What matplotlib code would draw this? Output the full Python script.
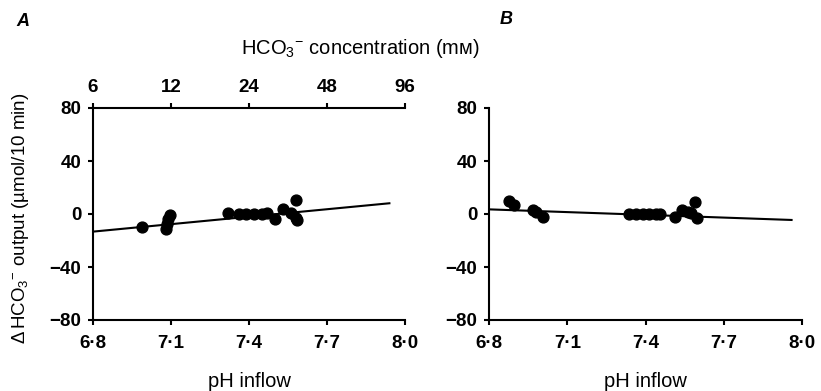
import numpy as np
import matplotlib
matplotlib.use("Agg")
import matplotlib.pyplot as plt

plt.rcParams["font.family"] = ["Liberation Sans", "DejaVu Sans"]
plt.rcParams["mathtext.fontset"] = "custom"
plt.rcParams["mathtext.rm"] = "Liberation Sans"
plt.rcParams["mathtext.it"] = "Liberation Sans:italic"

# Panel A data (pH inflow vs change in HCO3- output)
ph_a = [6.99, 7.08, 7.085, 7.09, 7.095, 7.32, 7.36, 7.39, 7.42, 7.45, 7.47,
        7.50, 7.53, 7.56, 7.58, 7.58, 7.585]
out_a = [-10, -11.5, -7.8, -4, -0.8, 0.5, 0, 0, 0, 0, 0.5,
         -3.5, 3.7, 0.5, 10.5, -3.3, -4.5]
fit_a_x = [6.8, 7.94]
fit_a_y = [-13.3, 8.1]

# Panel B data
ph_b = [6.877, 6.896, 6.97, 6.98, 7.006, 7.338, 7.363, 7.389, 7.414, 7.44,
        7.455, 7.513, 7.54, 7.564, 7.575, 7.59, 7.596]
out_b = [10, 6.8, 3, 1.3, -2.5, 0, 0, 0, 0, 0,
         0, -2, 3, 1.7, 0.5, 9.3, -3.3]
fit_b_x = [6.8, 7.96]
fit_b_y = [3.5, -4.5]

ph_ticks = [6.8, 7.1, 7.4, 7.7, 8.0]
ph_labels = ["6·8", "7·1", "7·4", "7·7", "8·0"]
y_ticks = [-80, -40, 0, 40, 80]
y_labels = ["\u221280", "\u221240", "0", "40", "80"]
conc_ticks = [6, 12, 24, 48, 96]

fig = plt.figure(figsize=(8.21, 3.91), dpi=100)
W, H = 821, 391

def make_axes(x0, x1):
    ax = fig.add_axes([x0 / W, 1 - 320 / H, (x1 - x0) / W, (320 - 108) / H])
    ax.set_xlim(6.8, 8.0)
    ax.set_ylim(-80, 80)
    for s in ["top", "right"]:
        ax.spines[s].set_visible(False)
    for s in ["left", "bottom"]:
        ax.spines[s].set_linewidth(1.5)
    ax.set_xticks(ph_ticks)
    ax.set_xticklabels(ph_labels)
    ax.set_yticks(y_ticks)
    ax.set_yticklabels(y_labels)
    ax.tick_params(direction="out", length=3.5, width=1.5, labelsize=13.5)
    ax.tick_params(axis="x", pad=7)
    ax.tick_params(axis="y", pad=5)
    for t in ax.get_xticklabels() + ax.get_yticklabels():
        t.set_fontweight("bold")
    ax.set_xlabel("pH inflow", fontsize=14.5)
    ax.xaxis.set_label_coords(0.5, -0.245)
    return ax

ax_a = make_axes(93, 405)
ax_a.plot(fit_a_x, fit_a_y, color="black", lw=1.5)
ax_a.plot(ph_a, out_a, "o", color="black", ms=7.8)
ax_a.set_ylabel("$\\Delta\\,$HCO$_3$$^{-}$ output (µmol/10 min)", fontsize=13.5)
ax_a.yaxis.set_label_coords(-0.2, 0.48)

# top concentration axis, log spacing matches pH
top = ax_a.twiny()
top.set_xlim(6.8, 8.0)
top.set_xticks([6.8 + np.log10(c / 6) for c in conc_ticks])
top.set_xticklabels([str(c) for c in conc_ticks])
for s in ["left", "right", "bottom"]:
    top.spines[s].set_visible(False)
top.spines["top"].set_linewidth(1.5)
top.tick_params(direction="out", length=3.5, width=1.5, labelsize=13.5, pad=5)
for t in top.get_xticklabels():
    t.set_fontweight("bold")
fig.text(360 / W, 1 - 48 / H, "HCO$_3$$^{-}$ concentration (mᴍ)",
         ha="center", va="center", fontsize=14.5)

ax_b = make_axes(489, 802)
ax_b.plot(fit_b_x, fit_b_y, color="black", lw=1.5)
ax_b.plot(ph_b, out_b, "o", color="black", ms=7.8)

fig.text(23 / W, 1 - 22 / H, "A", fontsize=13, fontweight="bold", style="italic",
         ha="center", va="center")
fig.text(506 / W, 1 - 19 / H, "B", fontsize=13, fontweight="bold", style="italic",
         ha="center", va="center")

fig.savefig("out.png", dpi=100)
